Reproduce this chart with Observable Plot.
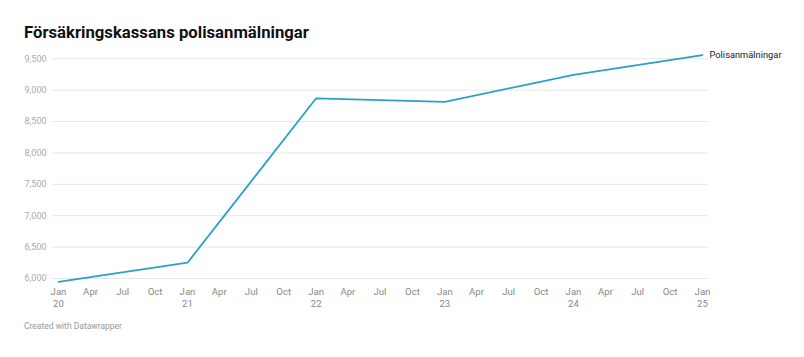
<!DOCTYPE html>
<html>
<head>
<meta charset="utf-8">
<script src="https://cdn.jsdelivr.net/npm/d3@7"></script>
<script src="https://cdn.jsdelivr.net/npm/@observablehq/plot@0.6"></script>
<style>
  html, body { margin: 0; padding: 0; background: #fff; }
  body { width: 804px; height: 357px; position: relative; font-family: Roboto, sans-serif; overflow: hidden; }
  #title { position: absolute; left: 24px; top: 23px; font-size: 16.7px; font-weight: 700; color: #111; }
  #chart { position: absolute; left: 0; top: 45px; }
  #caption { position: absolute; left: 24px; top: 321px; font-size: 8.5px; color: #999; }
</style>
</head>
<body>
<div id="title">Försäkringskassans polisanmälningar</div>
<div id="chart"></div>
<div id="caption">Created with Datawrapper</div>
<script>
const dates = ["2020-01-01", "2021-01-01", "2022-01-01", "2023-01-01", "2024-01-01", "2025-01-01"];
const values = [5945, 6252, 8871, 8814, 9244, 9560];
const seriesName = "Polisanmälningar";
const yTicks = [6000, 6500, 7000, 7500, 8000, 8500, 9000, 9500];
const monthNames = ["Jan", "Apr", "Jul", "Oct"];

const data = dates.map((d, i) => ({date: new Date(d + "T00:00:00Z"), value: values[i]}));
const xTicks = [];
for (let y = 2020; y <= 2025; y++) {
  for (let q = 0; q < 4; q++) {
    if (y === 2025 && q > 0) break;
    xTicks.push({date: new Date(Date.UTC(y, q * 3, 1)), label: q === 0 ? monthNames[q] + "\n" + String(y).slice(2) : monthNames[q]});
  }
}
const fmt = d3.format(",");

const chart = Plot.plot({
  width: 804,
  height: 270,
  marginTop: 13.3,
  marginBottom: 37,
  marginLeft: 58,
  marginRight: 102,
  style: {fontFamily: "Roboto, sans-serif", overflow: "visible", background: "transparent"},
  x: {type: "utc", domain: [data[0].date, data[data.length - 1].date], axis: null},
  y: {domain: [6000, 9500], axis: null},
  marks: [
    Plot.ruleY(yTicks, {y: d => d, stroke: "#e6e6e6", strokeWidth: 1, insetLeft: -6, insetRight: -6}),
    Plot.text(yTicks, {y: d => d, text: d => fmt(d), frameAnchor: "left", dx: -34, textAnchor: "start", fill: "#aaa", fontSize: 9}),
    Plot.text(xTicks, {x: "date", text: "label", frameAnchor: "bottom", lineAnchor: "top", dy: 8.5, fill: "#888", fontSize: 9.6, lineHeight: 1.2}),
    Plot.line(data, {x: "date", y: "value", stroke: "#2aa1c6", strokeWidth: 1.8}),
    Plot.text(data.slice(-1), {x: "date", y: "value", text: () => seriesName, dx: 7, textAnchor: "start", fill: "#222", fontSize: 9.3})
  ]
});
document.getElementById("chart").appendChild(chart);
</script>
</body>
</html>
